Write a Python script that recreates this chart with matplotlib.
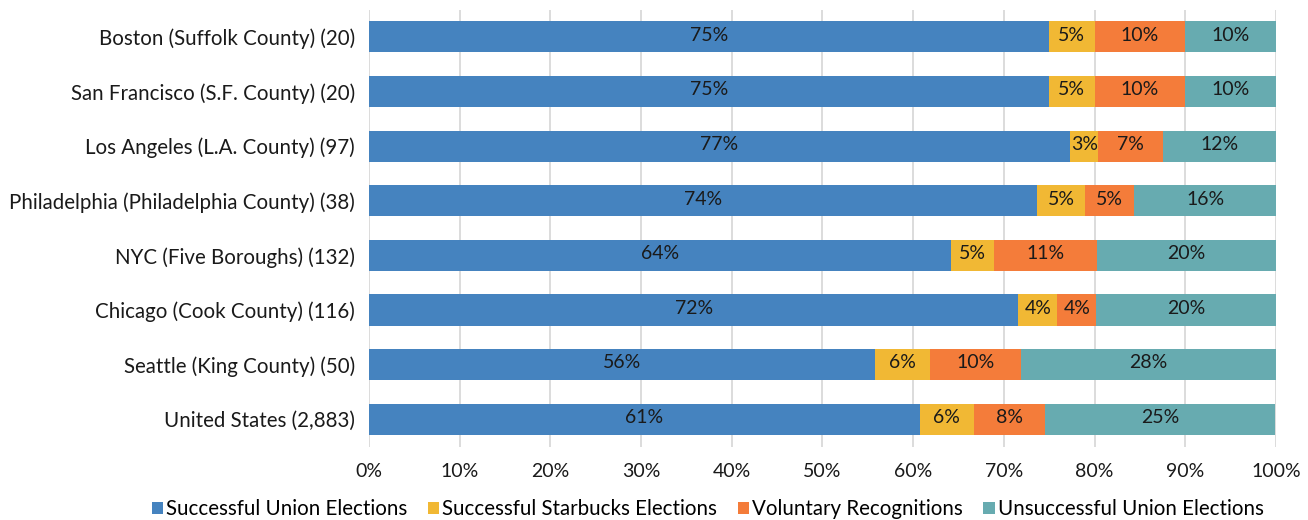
import numpy as np
import matplotlib
matplotlib.use("Agg")
import matplotlib.pyplot as plt
from matplotlib.patches import Patch

plt.rcParams["font.family"] = ["Lato", "DejaVu Sans"]

# --- Data (share of outcomes, percent) ---
regions = [
    "Boston (Suffolk County) (20)",
    "San Francisco (S.F. County) (20)",
    "Los Angeles (L.A. County) (97)",
    "Philadelphia (Philadelphia County) (38)",
    "NYC (Five Boroughs) (132)",
    "Chicago (Cook County) (116)",
    "Seattle (King County) (50)",
    "United States (2,883)",
]
union_wins     = [75.0, 75.0, 77.3, 73.7, 64.2, 71.6, 55.8, 60.7]
starbucks_wins = [5.0, 5.0, 3.1, 5.3, 4.7, 4.3, 6.1, 6.0]
voluntary      = [10.0, 10.0, 7.2, 5.3, 11.4, 4.3, 10.0, 7.8]
union_losses   = [10.0, 10.0, 12.4, 15.8, 19.7, 19.8, 28.1, 25.4]

series_names = ["Successful Union Elections", "Successful Starbucks Elections",
                "Voluntary Recognitions", "Unsuccessful Union Elections"]
series_vals  = [union_wins, starbucks_wins, voluntary, union_losses]
colors       = ["#4583BF", "#F1B834", "#F47C3A", "#67ABB0"]

# --- Plot ---
fig = plt.figure(figsize=(13.08, 5.2), dpi=100)
ax = fig.add_axes([0.2821, 0.1413, 0.6934, 0.8404])

y = np.arange(len(regions))
left = np.zeros(len(regions))
for name, vals, col in zip(series_names, series_vals, colors):
    vals = np.array(vals)
    ax.barh(y, vals, left=left, height=0.57, color=col, label=name, zorder=2)
    for yi, l, v in zip(y, left, vals):
        ax.text(l + v / 2, yi - 0.03, f"{v:.0f}%", ha="center", va="center",
                fontsize=14, color="#1a1a1a", zorder=3)
    left += vals

ax.set_xlim(0, 100)
ax.set_ylim(len(regions) - 0.5, -0.5)
ax.set_yticks(y)
ax.set_yticklabels(regions, fontsize=14.8, color="#1a1a1a")
ax.set_xticks(np.arange(0, 101, 10))
ax.set_xticklabels([f"{t}%" for t in range(0, 101, 10)], fontsize=14, color="#1a1a1a")
ax.tick_params(axis="y", length=0, pad=10)
ax.tick_params(axis="x", length=0, pad=12)
ax.grid(axis="x", color="#d9d9d9", linewidth=1.3, zorder=0)
for s in ax.spines.values():
    s.set_visible(False)

handles = [Patch(facecolor=c, edgecolor="none") for c in colors]
fig.legend(handles, series_names, loc="center", bbox_to_anchor=(0.541, 0.021),
           ncol=4, frameon=False, fontsize=14.8, handlelength=0.55, handleheight=0.55,
           handletextpad=0.15, columnspacing=1.0)

fig.savefig("out.png", dpi=100)
